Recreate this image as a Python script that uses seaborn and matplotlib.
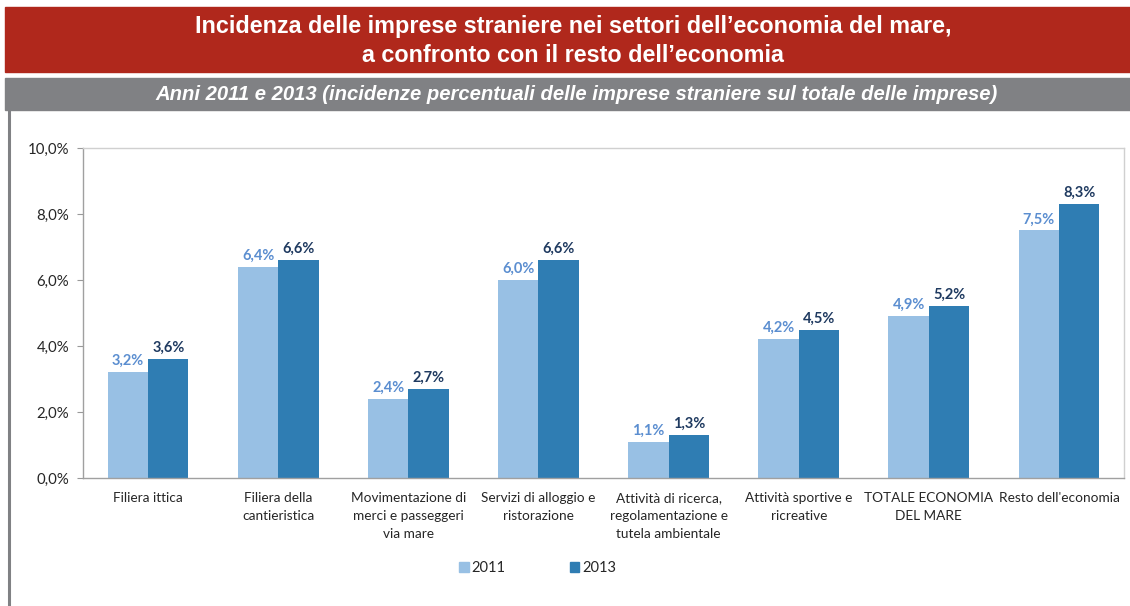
import numpy as np
import pandas as pd
import seaborn as sns
import matplotlib.pyplot as plt
from matplotlib.patches import Rectangle
from matplotlib.lines import Line2D
from matplotlib.ticker import FuncFormatter

# data
categories = ["Filiera ittica", "Filiera della\ncantieristica",
              "Movimentazione di\nmerci e passeggeri\nvia mare",
              "Servizi di alloggio e\nristorazione",
              "Attività di ricerca,\nregolamentazione e\ntutela ambientale",
              "Attività sportive e\nricreative", "TOTALE ECONOMIA\nDEL MARE",
              "Resto dell'economia"]
years = ["2011", "2013"]
values_2011 = [3.2, 6.4, 2.4, 6.0, 1.1, 4.2, 4.9, 7.5]
values_2013 = [3.6, 6.6, 2.7, 6.6, 1.3, 4.5, 5.2, 8.3]

df = pd.DataFrame({
    "categoria": categories * 2,
    "anno": [years[0]] * len(categories) + [years[1]] * len(categories),
    "valore": values_2011 + values_2013,
})

sns.set_style("white")
plt.rcParams['font.family'] = ['Lato', 'DejaVu Sans']

fig = plt.figure(figsize=(11.3, 6.06), dpi=100)
ax = fig.add_axes([0.0735, 0.2112, 0.9212, 0.5446])

palette = {"2011": "#98C0E4", "2013": "#2F7DB3"}
sns.barplot(data=df, x="categoria", y="valore", hue="anno", palette=palette,
            width=0.62, ax=ax, legend=False, saturation=1, edgecolor="none")

label_colors = ["#5B8ED0", "#1F3A60"]
for cont, col in zip(ax.containers, label_colors):
    ax.bar_label(cont, labels=[f"{v:.1f}%".replace(".", ",") for v in cont.datavalues],
                 color=col, fontsize=10.5, fontweight="bold", padding=3)

ax.set_ylim(0, 10)
ax.set_yticks([0, 2, 4, 6, 8, 10])
ax.yaxis.set_major_formatter(FuncFormatter(lambda v, p: f"{v:.1f}%".replace(".", ",")))
ax.set_xlabel("")
ax.set_ylabel("")
ax.tick_params(axis="y", labelsize=10.8, length=4, color="#999999", left=True, pad=6)
ax.tick_params(axis="x", labelsize=9.8, length=0, pad=10)
for lab in ax.get_xticklabels():
    lab.set_linespacing(1.6)
for side in ["top", "right"]:
    ax.spines[side].set_color("#D0D0D0")
for side in ["left", "bottom"]:
    ax.spines[side].set_color("#A0A0A0")
for sp in ax.spines.values():
    sp.set_linewidth(1)

# legend
handles = [Rectangle((0, 0), 1, 1, color=palette[y]) for y in years]
fig.legend(handles, years, loc="center", bbox_to_anchor=(0.476, 0.062), ncol=2,
           frameon=False, fontsize=10.5, handlelength=0.65, handleheight=0.65,
           handletextpad=0.2, columnspacing=4.4)

# banners
fig.patches.append(Rectangle((5 / 1130, 1 - 72 / 606), 1, 65 / 606,
                             transform=fig.transFigure, color="#B0281C", zorder=0))
fig.patches.append(Rectangle((5 / 1130, 1 - 110 / 606), 1, 32 / 606,
                             transform=fig.transFigure, color="#808184", zorder=0))
fig.add_artist(Line2D([9 / 1130, 9 / 1130], [0, 1 - 110 / 606],
                      transform=fig.transFigure, color="#808184", lw=2.2))

title_font = ['Liberation Sans', 'DejaVu Sans']
fig.text(0.507, 1 - 27 / 606, "Incidenza delle imprese straniere nei settori dell\u2019economia del mare,",
         ha="center", va="center", color="white", fontsize=16.8, fontweight="bold", family=title_font)
fig.text(0.507, 1 - 55 / 606, "a confronto con il resto dell\u2019economia",
         ha="center", va="center", color="white", fontsize=16.8, fontweight="bold", family=title_font)
fig.text(0.51, 1 - 94 / 606,
         "Anni 2011 e 2013 (incidenze percentuali delle imprese straniere sul totale delle imprese)",
         ha="center", va="center", color="white", fontsize=14.6, fontweight="bold",
         style="italic", family=title_font)

fig.savefig("out.png", dpi=100)
